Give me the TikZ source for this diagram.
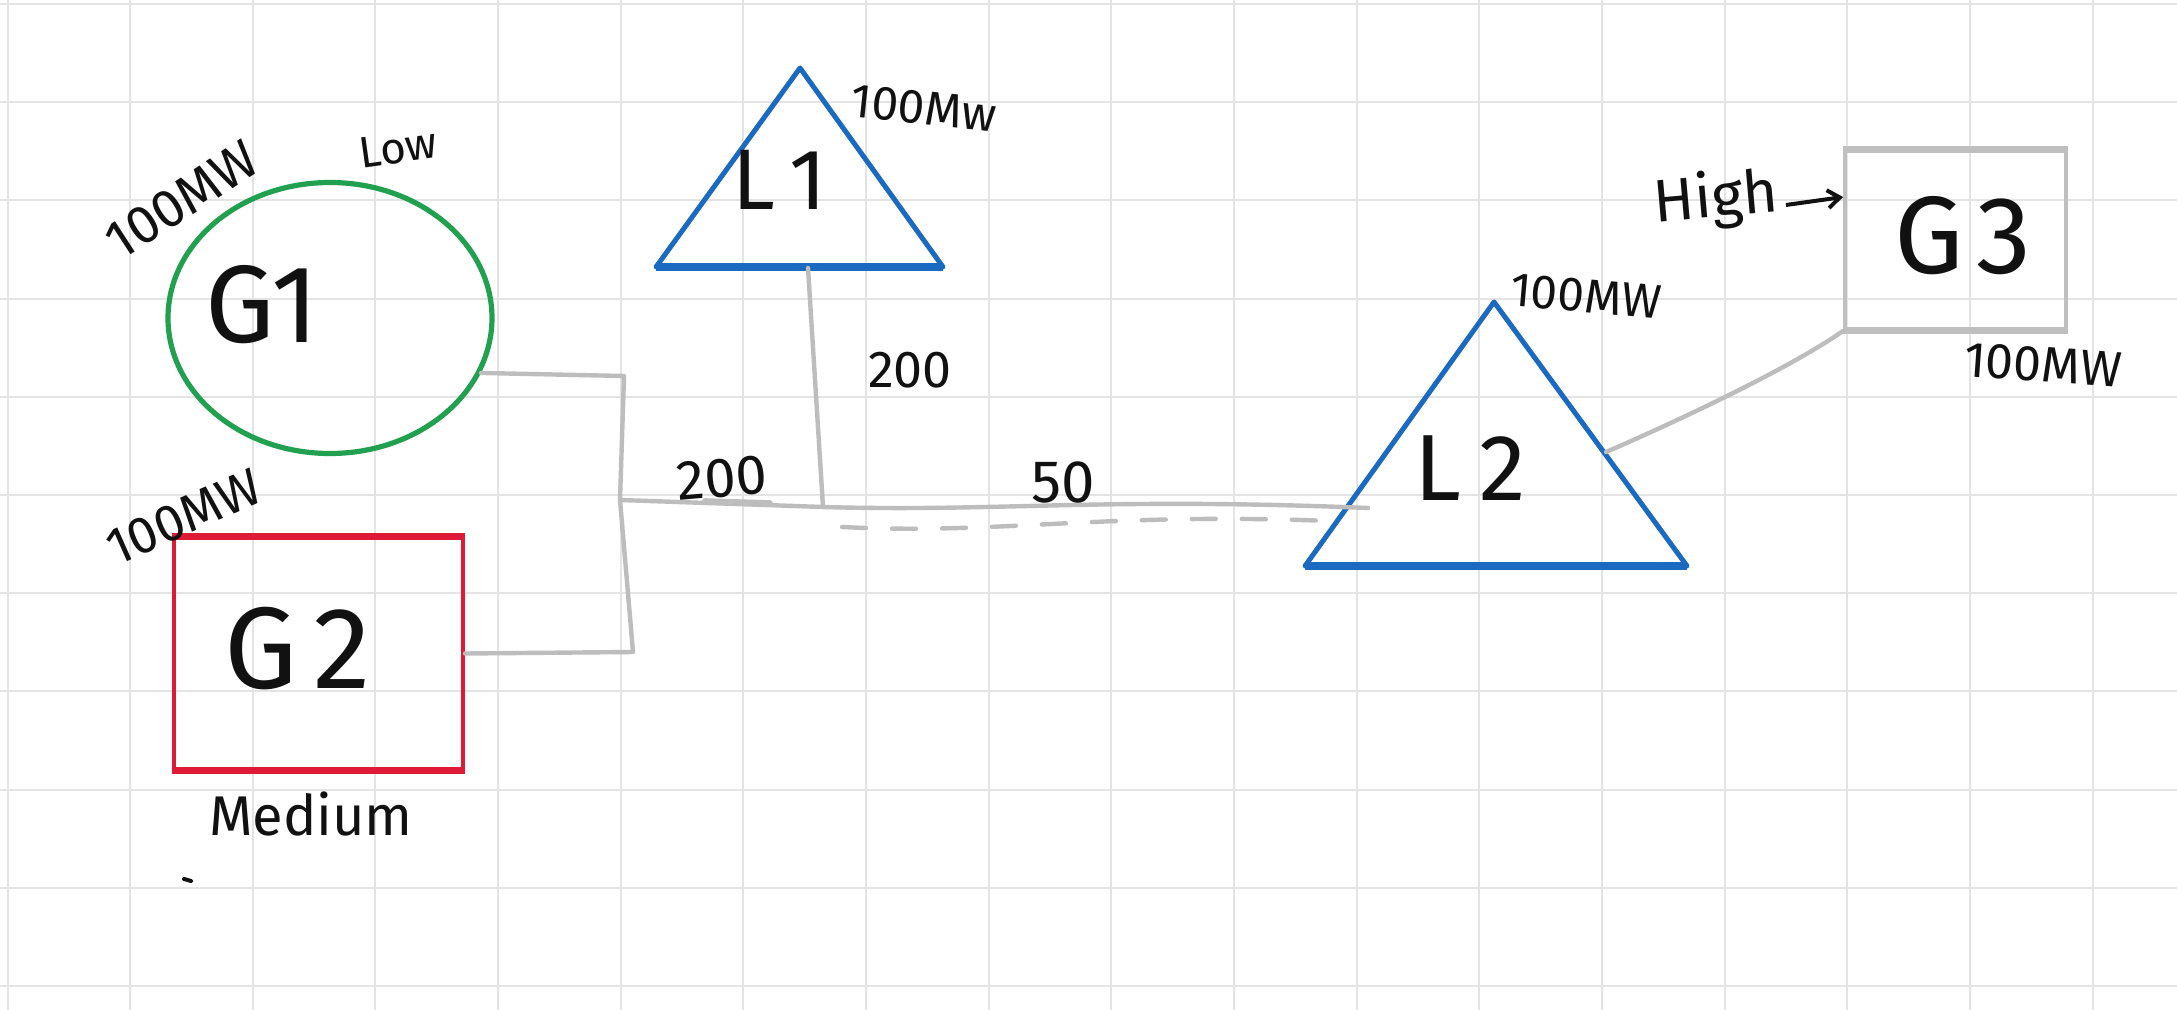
\documentclass[tikz,border=0pt]{standalone}
\usepackage{fontspec}
\setmainfont{Fira Sans}
\usetikzlibrary{shapes.geometric,arrows.meta}
\definecolor{gridgray}{HTML}{E4E4E4}
\definecolor{wiregray}{HTML}{BDBDBD}
\definecolor{boxgray}{HTML}{BFBFBF}
\definecolor{gengreen}{HTML}{21A050}
\definecolor{loadblue}{HTML}{1B6AC2}
\definecolor{genred}{HTML}{DE1A36}
\definecolor{ink}{HTML}{111111}

\begin{document}
\begin{tikzpicture}[x=0.5pt,y=-0.5pt,
  gridline/.style={draw=gridgray,line width=1pt},
  wire/.style={draw=wiregray,line width=2.2pt,line join=round,line cap=round},
  hand/.style={text=ink,inner sep=0pt,font=\fontsize{#1}{#1}\selectfont},
  loadedge/.style={draw=loadblue,line width=2.5pt,line join=round,line cap=round},
  genbox/.style={rectangle,inner sep=0pt,line width=2pt},
]
% page and background grid
\fill[white] (0,0) rectangle (2177,1010);
\useasboundingbox (0,0) rectangle (2177,1010);
\foreach \k in {0,...,17} \draw[gridline] ({7.5+122.65*\k},0) -- ({7.5+122.65*\k},1010);
\foreach \k in {0,...,10} \draw[gridline] (0,{4+98.2*\k}) -- (2177,{4+98.2*\k});

% generator G1
\node[ellipse,draw=gengreen,line width=2.6pt,minimum width=162pt,minimum height=135.5pt,inner sep=0pt] (G1) at (330,318) {};
\node[hand=55] (G1t) at (262,305) {G1};
\node[hand=27,rotate=33] (G1mw) at (182,200) {100MW};
\node[hand=22,rotate=8] (G1cost) at (398,148) {Low};

% generator G2
\node[genbox,draw=genred,minimum width=144.5pt,minimum height=115.5pt] (G2) at (318.5,653.5) {};
\draw[genred,line width=3pt] (G2.north west) -- (G2.north east) (G2.south west) -- (G2.south east);
\node[hand=58] (G2t) at (298,649) {G\kern8pt 2};
\node[hand=26,rotate=24] (G2mw) at (184,517) {100MW};
\node[hand=28] (G2cost) at (311,814) {Medium};
\draw[ink,line width=2pt,line cap=round] (184,879) -- (191,881);

% generator G3
\node[genbox,draw=boxgray,minimum width=110.5pt,minimum height=89pt] (G3) at (1955.5,240) {};
\draw[boxgray,line width=3.2pt] (G3.north west) -- (G3.north east) (G3.south west) -- (G3.south east);
\node[hand=55] (G3t) at (1963,236) {G\kern6pt 3};
\node[hand=25,rotate=-4] (G3mw) at (2043,365) {100MW};
\node[hand=30,rotate=5] (G3cost) at (1716,200) {High};
\coordinate (arrTail) at (1786,205);
\coordinate (arrTip) at (1843,197);
\draw[ink,line width=2pt,-{Straight Barb[length=6pt,width=9pt]}] (arrTail) -- (arrTip);

% load L1
\coordinate (L1top) at (800,68);
\coordinate (L1bl) at (656,267);
\coordinate (L1br) at (943,267);
\draw[loadedge] (L1top) -- (L1br) -- (L1bl) -- cycle;
\draw[loadblue,line width=3.6pt] (L1bl) -- (L1br);
\node[hand=43] (L1) at (780,180) {L\kern7pt 1};
\node[hand=24,rotate=-6] (L1mw) at (924,108) {100Mw};

% load L2
\coordinate (L2top) at (1494,302);
\coordinate (L2bl) at (1305,566);
\coordinate (L2br) at (1687,566);
\draw[loadedge] (L2top) -- (L2br) -- (L2bl) -- cycle;
\draw[loadblue,line width=3.6pt] (L2bl) -- (L2br);
\node[hand=47] (L2) at (1470,468) {L\kern9pt 2};
\node[hand=24,rotate=-5] (L2mw) at (1586,296) {100MW};

% network wiring
\coordinate (J1) at (624,376);
\coordinate (busW) at (620,500);
\coordinate (J2) at (633,652);
\coordinate (L1foot) at (808,268);
\coordinate (tapL1) at (823,507);
\coordinate (busE) at (1368,508);
\coordinate (dashW) at (842,527);
\coordinate (dashE) at (1330,521);
\coordinate (L2tap) at (1606,452);

\draw[wire] (G1.-20) -- (J1) -- (busW) -- (J2) -- (G2.east);
\draw[wire] (L1foot) -- (tapL1);
\draw[wire] (busW) -- (tapL1) .. controls (1000,512) and (1100,497) .. (busE);
\draw[wire,line width=2.8pt] (705,501) -- (770,503);
\draw[wire,dash pattern=on 12pt off 13pt] (dashW) .. controls (1000,535) and (1100,512) .. (dashE);
\draw[wire] (L2tap) .. controls (1680,420) and (1790,368) .. (G3.south west);

% line ratings
\node[hand=26] (capL1) at (910,370) {200};
\node[hand=28,rotate=5] (capG) at (722,478) {200};
\node[hand=30] (capL2) at (1063,482) {50};
\end{tikzpicture}
\end{document}
